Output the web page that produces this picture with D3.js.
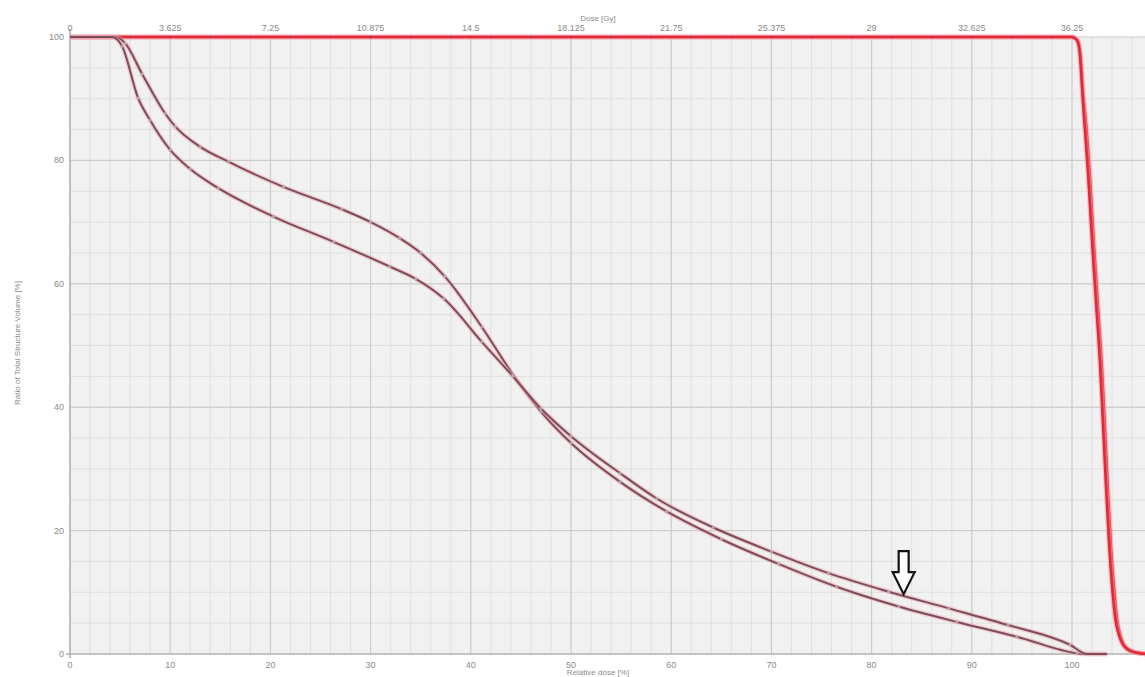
<!DOCTYPE html>
<html>
<head>
<meta charset="utf-8">
<script src="https://cdn.jsdelivr.net/npm/d3@7"></script>
<style>
  body { margin: 0; background: #fff; }
  svg { display: block; font-family: "Liberation Sans", "DejaVu Sans", sans-serif; }
</style>
</head>
<body>
<div id="chart"></div>
<script>
// relative dose [%] -> volume ratio [%]
var seriesA = [
	[0, 100], [4.5, 100], [5.5, 99], [7.2, 94], [9.5, 87.6], [10.5, 85.5], [13, 82.2],
	[15.8, 79.8], [21.3, 75.7], [27.1, 72.1], [30, 70], [32.9, 67.4], [35, 65], [37.4, 61.2],
	[41.1, 53], [44.2, 45.3], [47, 39.3], [50, 34.2], [54.9, 27.9], [59.55, 23.1], [65, 18.6],
	[70.7, 14.6], [76.5, 10.9], [82.7, 7.7], [88.5, 5.2], [94.5, 2.8], [100.5, 0.1], [101, 0], [103.5, 0]
];
var seriesB = [
	[0, 100], [4.2, 100], [5.2, 98.5], [6.8, 90.1], [8, 86.5], [10, 81.7], [12, 78.6],
	[14.8, 75.5], [20.3, 70.9], [26.3, 66.8], [31.9, 62.8], [34.5, 60.8], [37.3, 57.6],
	[41.1, 50.6], [44.2, 45], [47, 39.8], [50, 35.3], [54.9, 29.3], [58.55, 25.2], [64.2, 20.5],
	[70, 16.6], [75.7, 13.1], [81.7, 10.1], [87.7, 7.4], [93.6, 4.7], [99.8, 1.5], [101.5, 0], [103.5, 0]
];
var seriesRed = [
	[0, 100], [100, 100], [100.5, 99.5], [100.8, 97], [101, 92], [101.2, 87], [101.6, 78],
	[102, 67], [102.4, 57], [102.8, 47], [103.1, 37], [103.4, 27], [103.7, 18], [104, 11],
	[104.3, 6], [104.7, 3], [105.1, 1.5], [106, 0.4], [107.5, 0]
];
var seriesRed2 = [
	[0, 100], [100, 100], [100.6, 99.3], [100.9, 96], [101.1, 91], [101.4, 86], [101.8, 77],
	[102.2, 66], [102.6, 56], [103, 46], [103.3, 36], [103.6, 26], [103.9, 17], [104.2, 10.5],
	[104.5, 5.5], [104.9, 2.6], [105.3, 1.2], [106.2, 0.3], [107.5, 0]
];

var bottomTicks = [0, 10, 20, 30, 40, 50, 60, 70, 80, 90, 100];
var topTickLabels = ["0", "3.625", "7.25", "10.875", "14.5", "18.125", "21.75", "25.375", "29", "32.625", "36.25"];
var yTicks = [0, 20, 40, 60, 80, 100];
var arrowAt = [83.2, 9.7];

var width = 1145, height = 677;

var x = d3.scaleLinear().domain([0, 100]).range([70, 1072]);
var y = d3.scaleLinear().domain([0, 100]).range([654, 37]);
var xMax = x.invert(width);

var svg = d3.select("#chart").append("svg")
	.attr("width", width)
	.attr("height", height);

svg.append("defs").append("clipPath")
	.attr("id", "plot-clip")
	.append("rect")
	.attr("x", x(0))
	.attr("y", y(100) - 4)
	.attr("width", width - x(0))
	.attr("height", y(0) - y(100) + 8);

/* background */
svg.append("rect")
	.attr("x", x(0))
	.attr("y", y(100))
	.attr("width", width - x(0))
	.attr("height", y(0) - y(100))
	.attr("fill", "#f1f1f1");

/* minor grid */
var grid = svg.append("g");
grid.selectAll(".vminor")
	.data(d3.range(2, xMax, 2))
	.enter()
	.append("line")
	.attr("x1", function(d) { return x(d); })
	.attr("x2", function(d) { return x(d); })
	.attr("y1", y(100))
	.attr("y2", y(0))
	.attr("stroke", "#e0e0e0")
	.attr("stroke-width", 1);
grid.selectAll(".hminor")
	.data(d3.range(5, 100, 5))
	.enter()
	.append("line")
	.attr("x1", x(0))
	.attr("x2", width)
	.attr("y1", function(d) { return y(d); })
	.attr("y2", function(d) { return y(d); })
	.attr("stroke", "#e0e0e0")
	.attr("stroke-width", 1);

/* major grid */
grid.selectAll(".vmajor")
	.data(d3.range(10, xMax, 10))
	.enter()
	.append("line")
	.attr("x1", function(d) { return x(d); })
	.attr("x2", function(d) { return x(d); })
	.attr("y1", y(100))
	.attr("y2", y(0))
	.attr("stroke", "#c9c9c9")
	.attr("stroke-width", 1);
grid.selectAll(".hmajor")
	.data(yTicks.slice(1))
	.enter()
	.append("line")
	.attr("x1", x(0))
	.attr("x2", width)
	.attr("y1", function(d) { return y(d); })
	.attr("y2", function(d) { return y(d); })
	.attr("stroke", "#c9c9c9")
	.attr("stroke-width", 1);

/* axes lines */
svg.append("line")
	.attr("x1", x(0)).attr("x2", x(0))
	.attr("y1", y(100) - 8).attr("y2", y(0) + 4)
	.attr("stroke", "#a8a8a8").attr("stroke-width", 1.5);
svg.append("line")
	.attr("x1", x(0) - 4).attr("x2", width)
	.attr("y1", y(0)).attr("y2", y(0))
	.attr("stroke", "#b0b0b0").attr("stroke-width", 1.5);

/* tick labels */
var labelColor = "#8a8a8a";
svg.append("g").selectAll("text")
	.data(bottomTicks)
	.enter()
	.append("text")
	.attr("x", function(d) { return x(d); })
	.attr("y", y(0) + 14)
	.attr("text-anchor", "middle")
	.attr("font-size", "9px")
	.attr("fill", labelColor)
	.text(function(d) { return d; });

svg.append("g").selectAll("text")
	.data(topTickLabels)
	.enter()
	.append("text")
	.attr("x", function(d, i) { return x(bottomTicks[i]); })
	.attr("y", y(100) - 6)
	.attr("text-anchor", "middle")
	.attr("font-size", "9px")
	.attr("fill", labelColor)
	.text(function(d) { return d; });

svg.append("g").selectAll("text")
	.data(yTicks)
	.enter()
	.append("text")
	.attr("x", x(0) - 6)
	.attr("y", function(d) { return y(d) + 3; })
	.attr("text-anchor", "end")
	.attr("font-size", "9px")
	.attr("fill", labelColor)
	.text(function(d) { return d; });

svg.append("text")
	.attr("x", 598)
	.attr("y", 21)
	.attr("text-anchor", "middle")
	.attr("font-size", "8px")
	.attr("fill", labelColor)
	.text("Dose [Gy]");

svg.append("text")
	.attr("x", 598)
	.attr("y", 675)
	.attr("text-anchor", "middle")
	.attr("font-size", "8px")
	.attr("fill", labelColor)
	.text("Relative dose [%]");

svg.append("text")
	.attr("transform", "translate(20," + 343 + ") rotate(-90)")
	.attr("text-anchor", "middle")
	.attr("font-size", "8px")
	.attr("fill", labelColor)
	.text("Ratio of Total Structure Volume [%]");

/* curves */
var line = d3.line()
	.x(function(d) { return x(d[0]); })
	.y(function(d) { return y(d[1]); })
	.curve(d3.curveMonotoneX);

var curves = svg.append("g").attr("clip-path", "url(#plot-clip)");

function drawCurve(data, color, halo, w) {
	curves.append("path")
		.datum(data)
		.attr("d", line)
		.attr("fill", "none")
		.attr("stroke", halo)
		.attr("stroke-width", w + 2.5)
		.attr("stroke-opacity", 0.55);
	curves.append("path")
		.datum(data)
		.attr("d", line)
		.attr("fill", "none")
		.attr("stroke", color)
		.attr("stroke-width", w);
}

function drawDots(data, color) {
	curves.append("g").selectAll("circle")
		.data(data.slice(2, data.length - 2))
		.enter()
		.append("circle")
		.attr("cx", function(d) { return x(d[0]); })
		.attr("cy", function(d) { return y(d[1]); })
		.attr("r", 1.6)
		.attr("fill", color);
}

drawCurve(seriesRed2, "#e8303f", "#f39aa3", 2.6);
drawCurve(seriesRed, "#e02a3a", "#f39aa3", 2.6);
drawCurve(seriesA, "#7d4d5a", "#e9aab4", 2);
drawCurve(seriesB, "#7d4d5a", "#e9aab4", 2);
drawDots(seriesA, "#b9a3a8");
drawDots(seriesB, "#b9a3a8");

/* red curve dots */
curves.append("g").selectAll("circle")
	.data(d3.range(2, 100, 4))
	.enter()
	.append("circle")
	.attr("cx", function(d) { return x(d); })
	.attr("cy", y(100))
	.attr("r", 1.1)
	.attr("fill", "#a03040");

/* arrow annotation */
var ax = x(arrowAt[0]), ay = y(arrowAt[1]);
var arrowPts = [
	[ax - 5, ay - 43], [ax + 5, ay - 43], [ax + 5, ay - 22], [ax + 11, ay - 22],
	[ax, ay], [ax - 11, ay - 22], [ax - 5, ay - 22]
];
svg.append("polygon")
	.attr("points", arrowPts.map(function(p) { return p.join(","); }).join(" "))
	.attr("fill", "#ffffff")
	.attr("stroke", "#111")
	.attr("stroke-width", 2.2)
	.attr("stroke-linejoin", "miter");
</script>
</body>
</html>
